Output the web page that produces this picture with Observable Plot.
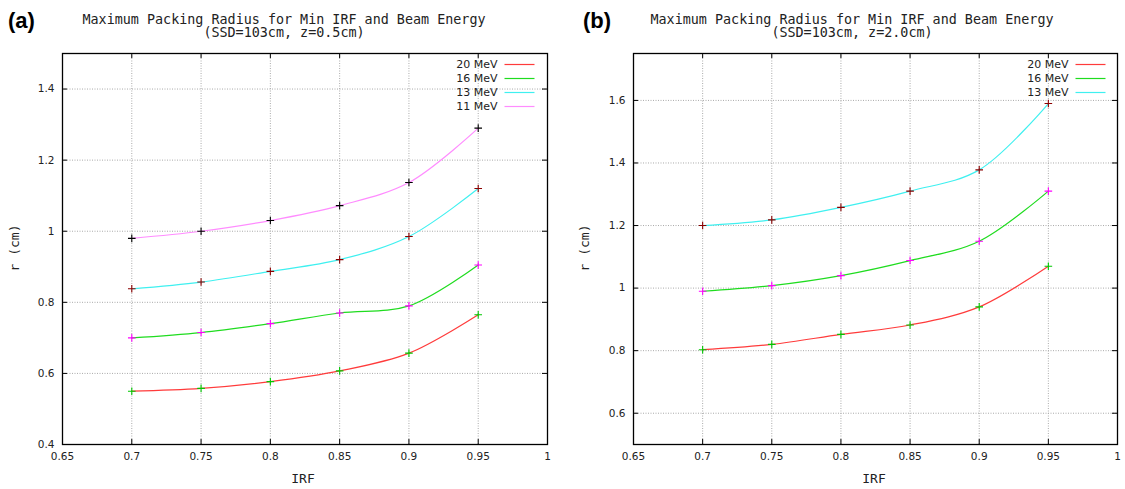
<!DOCTYPE html>
<html><head><meta charset="utf-8">
<script src="https://cdn.jsdelivr.net/npm/d3@7"></script>
<script src="https://cdn.jsdelivr.net/npm/@observablehq/plot@0.6"></script>
<style>
body{margin:0;background:#fff;}
#wrap{position:relative;width:1125px;height:489px;overflow:hidden;background:#fff;}
.panel{position:absolute;top:0;}
.plbl{position:absolute;font-family:"Liberation Sans",Arial,sans-serif;font-weight:bold;font-size:22px;line-height:22px;color:#000;}
.title{position:absolute;font-family:"DejaVu Sans Mono",monospace;font-size:13.4px;line-height:14px;text-align:center;white-space:pre;color:#222;transform:translateX(-50%);}
.axl{position:absolute;font-family:"DejaVu Sans Mono",monospace;font-size:13px;line-height:14px;white-space:pre;color:#222;}
</style></head><body><div id="wrap"></div>
<script>
// ---- data ----
const irf = [0.7, 0.75, 0.8, 0.85, 0.9, 0.95];
const xTicks = [0.65, 0.7, 0.75, 0.8, 0.85, 0.9, 0.95, 1];

// panel (a): z = 0.5 cm
const seriesA = ["20 MeV", "16 MeV", "13 MeV", "11 MeV"];
const rA_20 = [0.55, 0.558, 0.577, 0.607, 0.657, 0.765];
const rA_16 = [0.70, 0.715, 0.74, 0.77, 0.79, 0.905];
const rA_13 = [0.838, 0.857, 0.887, 0.92, 0.985, 1.12];
const rA_11 = [0.98, 1.0, 1.03, 1.072, 1.137, 1.29];
const yTicksA = [0.4, 0.6, 0.8, 1, 1.2, 1.4];

// panel (b): z = 2.0 cm
const seriesB = ["20 MeV", "16 MeV", "13 MeV"];
const rB_20 = [0.803, 0.82, 0.852, 0.882, 0.94, 1.07];
const rB_16 = [0.99, 1.008, 1.04, 1.088, 1.15, 1.31];
const rB_13 = [1.20, 1.218, 1.258, 1.31, 1.378, 1.59];
const yTicksB = [0.6, 0.8, 1, 1.2, 1.4, 1.6];

// ---- styles ----
const lineColor = {"20 MeV": "#ff3b3b", "16 MeV": "#1fdc1f", "13 MeV": "#3ff0f0", "11 MeV": "#ff8cff"};
const markColor = {"20 MeV": "#00c800", "16 MeV": "#ff00ff", "13 MeV": "#8b0000", "11 MeV": "#000000"};

const crossSym = {draw(ctx, size) { const r = Math.sqrt(size / Math.PI); ctx.moveTo(-r, 0); ctx.lineTo(r, 0); ctx.moveTo(0, -r); ctx.lineTo(0, r); }};
const swatchSym = {draw(ctx) { ctx.moveTo(-15, 0); ctx.lineTo(15, 0); }};
const fmt = d => String(+(+d).toFixed(2));

function panel({series, values, yDomain, yTicks, marginLeft, marginRight, legendTextDx, legendLineDx}) {
  const W = 562, H = 489, mt = 53, mb = 45;
  const fh = H - mt - mb, fw = W - marginLeft - marginRight;
  const rows = [];
  series.forEach((s, i) => values[i].forEach((v, j) => rows.push({s, x: irf[j], y: v})));
  const marks = [
    Plot.gridX(xTicks, {stroke: "#aaa", strokeOpacity: 1, strokeDasharray: "1,1.5"}),
    Plot.gridY(yTicks, {stroke: "#aaa", strokeOpacity: 1, strokeDasharray: "1,1.5"}),
    Plot.axisX(xTicks, {tickSize: 0, tickPadding: 8, tickFormat: fmt, label: null, fontSize: 10.5}),
    Plot.axisY(yTicks, {tickSize: 0, tickPadding: 8, tickFormat: fmt, label: null, fontSize: 10.5}),
    Plot.ruleX(xTicks, {x: d => d, insetTop: fh - 5, stroke: "#000"}),
    Plot.ruleX(xTicks, {x: d => d, insetBottom: fh - 5, stroke: "#000"}),
    Plot.ruleY(yTicks, {y: d => d, insetRight: fw - 5, stroke: "#000"}),
    Plot.ruleY(yTicks, {y: d => d, insetLeft: fw - 5, stroke: "#000"})
  ];
  series.forEach(s => {
    marks.push(Plot.line(rows.filter(r => r.s === s), {x: "x", y: "y", stroke: lineColor[s], strokeWidth: 1.2, curve: "catmull-rom"}));
  });
  series.forEach(s => {
    marks.push(Plot.dot(rows.filter(r => r.s === s), {x: "x", y: "y", symbol: crossSym, r: 3.8, fill: "none", stroke: markColor[s], strokeWidth: 1.1}));
  });
  series.forEach((s, i) => {
    marks.push(Plot.text([s], {text: d => d, frameAnchor: "top-right", dx: legendTextDx, dy: 11 + 14 * i, textAnchor: "end", lineAnchor: "middle", fontSize: 11, fill: "#222"}));
    marks.push(Plot.dot([s], {frameAnchor: "top-right", dx: legendLineDx, dy: 11 + 14 * i, symbol: swatchSym, r: 1, fill: "none", stroke: lineColor[s], strokeWidth: 1.2}));
  });
  marks.push(Plot.frame({stroke: "#000", strokeWidth: 1.3}));
  return Plot.plot({
    width: W, height: H,
    marginLeft, marginRight, marginTop: mt, marginBottom: mb,
    x: {domain: [0.65, 1]},
    y: {domain: yDomain},
    style: {fontFamily: "'DejaVu Sans', Verdana, sans-serif", fontSize: "10.5px", color: "#222", background: "#fff"},
    marks
  });
}

const wrap = document.getElementById("wrap");
const pa = panel({series: seriesA, values: [rA_20, rA_16, rA_13, rA_11], yDomain: [0.4, 1.5], yTicks: yTicksA, marginLeft: 62, marginRight: 15, legendTextDx: -50, legendLineDx: -28});
pa.classList.add("panel"); pa.style.left = "0px";
wrap.appendChild(pa);
const pb = panel({series: seriesB, values: [rB_20, rB_16, rB_13], yDomain: [0.5, 1.75], yTicks: yTicksB, marginLeft: 70, marginRight: 8, legendTextDx: -49, legendLineDx: -27});
pb.classList.add("panel"); pb.style.left = "563px";
wrap.appendChild(pb);

function addDiv(cls, text, left, top, extra) {
  const d = document.createElement("div");
  d.className = cls; d.textContent = text;
  d.style.left = left + "px"; d.style.top = top + "px";
  if (extra) Object.assign(d.style, extra);
  wrap.appendChild(d);
  return d;
}
addDiv("plbl", "(a)", 8, 10);
addDiv("plbl", "(b)", 583, 10);
addDiv("title", "Maximum Packing Radius for Min IRF and Beam Energy", 284, 13);
addDiv("title", "(SSD=103cm, z=0.5cm)", 284, 26);
addDiv("title", "Maximum Packing Radius for Min IRF and Beam Energy", 852, 13);
addDiv("title", "(SSD=103cm, z=2.0cm)", 852, 26);
addDiv("axl", "IRF", 303, 472, {transform: "translateX(-50%)"});
addDiv("axl", "IRF", 874, 472, {transform: "translateX(-50%)"});
addDiv("axl", "r (cm)", 15, 248, {transform: "translate(-50%,-50%) rotate(-90deg)"});
addDiv("axl", "r (cm)", 585, 248, {transform: "translate(-50%,-50%) rotate(-90deg)"});
</script></body></html>
